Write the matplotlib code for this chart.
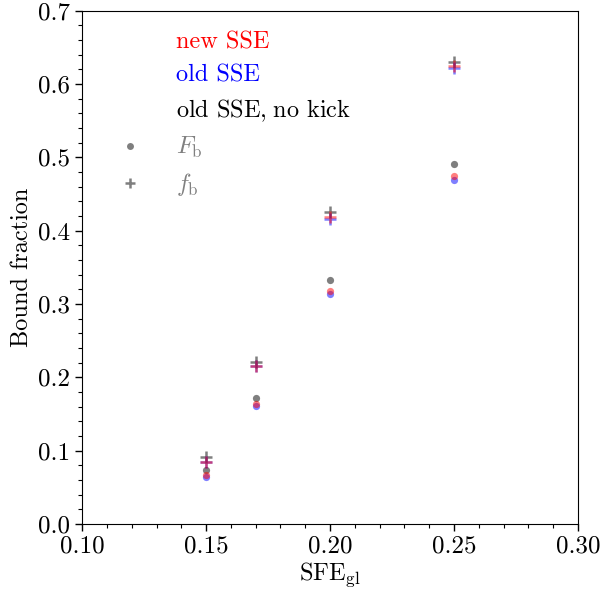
import matplotlib
matplotlib.use('Agg')
import matplotlib.pyplot as plt
from matplotlib.lines import Line2D
from matplotlib.ticker import MultipleLocator, FormatStrFormatter
import numpy as np

plt.rcParams['font.family'] = 'serif'
plt.rcParams['font.serif'] = ['cmr10']
plt.rcParams['mathtext.fontset'] = 'cm'
plt.rcParams['axes.formatter.use_mathtext'] = True
plt.rcParams['font.size'] = 17.5

sfe = np.array([0.15, 0.17, 0.20, 0.25])

# F_b (dots) and f_b (crosses) for each run
Fb_new = np.array([0.066, 0.163, 0.318, 0.475])
Fb_old = np.array([0.064, 0.161, 0.313, 0.469])
Fb_nokick = np.array([0.073, 0.172, 0.332, 0.491])

fb_new = np.array([0.085, 0.216, 0.418, 0.624])
fb_old = np.array([0.084, 0.215, 0.416, 0.622])
fb_nokick = np.array([0.091, 0.221, 0.425, 0.630])

runs = ['new SSE', 'old SSE', r'old SSE,$\;$no kick']
colors = ['red', 'blue', 'black']

fig = plt.figure(figsize=(6.04, 5.98), dpi=100)
ax = fig.add_axes([0.136, 0.124, 0.821, 0.858])

for Fb, fb, c in [(Fb_nokick, fb_nokick, 'black'),
                  (Fb_old, fb_old, 'blue'),
                  (Fb_new, fb_new, 'red')]:
    ax.plot(sfe, Fb, 'o', color=c, alpha=0.5, ms=5.2, mew=0)
    ax.plot(sfe, fb, '+', color=c, alpha=0.5, ms=8, mew=1.8)

ax.set_xlim(0.10, 0.30)
ax.set_ylim(0.0, 0.7)
ax.xaxis.set_major_locator(MultipleLocator(0.05))
ax.xaxis.set_minor_locator(MultipleLocator(0.01))
ax.yaxis.set_major_locator(MultipleLocator(0.1))
ax.yaxis.set_minor_locator(MultipleLocator(0.02))
ax.xaxis.set_major_formatter(FormatStrFormatter('%.2f'))
ax.yaxis.set_major_formatter(FormatStrFormatter('%.1f'))
ax.tick_params(which='major', length=5, width=1, labelsize=18)
ax.tick_params(which='minor', length=3, width=0.8)
ax.set_xlabel(r'SFE$_\mathrm{gl}$', labelpad=2)
ax.set_ylabel('Bound fraction')

handles = [Line2D([], [], linestyle='none') for _ in runs]
handles += [Line2D([], [], linestyle='none', marker='o', color='black', alpha=0.5, ms=5, mew=0),
            Line2D([], [], linestyle='none', marker='+', color='black', alpha=0.5, ms=7, mew=1.8)]
labels = runs + [r'$F_\mathrm{b}$', r'$f_\mathrm{b}$']
leg = ax.legend(handles, labels, loc='upper left', bbox_to_anchor=(0.0726, 0.959),
                frameon=False, borderpad=0, borderaxespad=0, labelspacing=0.45,
                handlelength=1.0, handletextpad=1.36, fontsize=17.5)
for txt, c in zip(leg.get_texts(), colors + ['gray', 'gray']):
    txt.set_color(c)

fig.savefig('out.png', dpi=100)
